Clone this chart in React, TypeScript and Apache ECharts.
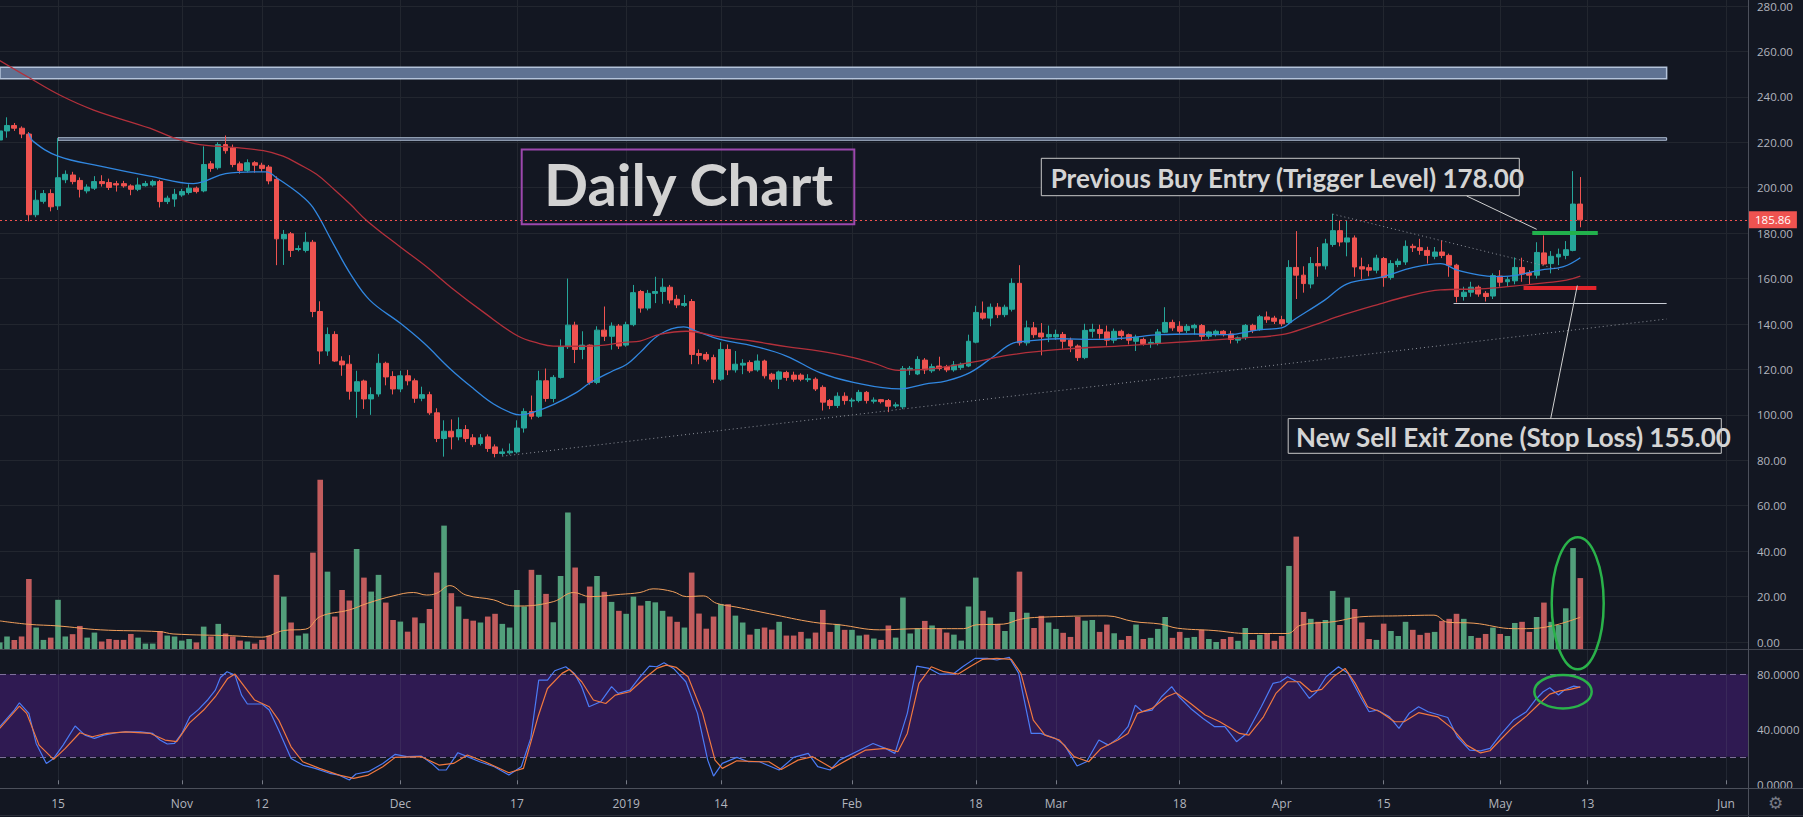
import React, { useEffect, useRef } from "react";
import * as echarts from "echarts";

// Day index: 0 = 15 Oct 2018. First candle = 7 Oct 2018 (day -8), last = 12 May 2019 (day 209)
const FIRST_DAY = -8;

// [open, high, low, close]
const OHLC_OCT = [
  [221, 227, 219, 225], [225, 231, 222, 227.4], [227.4, 228.5, 225, 226.2], [226.2, 227, 221.8, 223.6],
  [223.6, 224.5, 185.2, 188.1], [188.1, 198.9, 187, 194.5], [194, 199, 193, 197.4], [197.4, 199.3, 189.6, 191.6],
  [192, 221.8, 190.2, 204.4], [203.5, 207.6, 202, 205.9], [205.6, 207, 201.5, 202.7], [203.2, 204.5, 195.7, 199.3],
  [198.6, 201.5, 197.5, 200.3], [199.8, 205.1, 199, 202.7], [202.7, 205.5, 200.5, 201.8], [202.3, 204, 199, 200.1],
  [201.8, 203, 198.3, 201.2], [201.8, 203, 200, 200.8], [200.8, 201.5, 196.7, 199.3], [199.3, 204.4, 198.5, 201.2],
  [200.9, 203, 200.5, 201.8], [201.2, 203.5, 200.5, 202.7], [202.7, 203.5, 191.3, 193.9], [193.9, 196.5, 192.8, 195.4],
  [195, 199.5, 191.6, 197.1],
];
const OHLC_NOV = [
  [196.8, 199.5, 196, 198.3], [197.9, 201.5, 197, 199.8], [199.8, 200.5, 197.5, 198.3], [198.6, 218.2, 198, 210.2],
  [210.5, 211.7, 207, 208.5], [208.8, 220, 208, 219], [219, 223, 215, 216.3], [217.5, 219, 209, 210.2],
  [210.5, 211.5, 206.2, 207.6], [207.6, 212.5, 206.8, 211], [211, 211.7, 206.6, 209.9], [209.9, 211, 207, 208.5],
  [209.1, 210, 201.5, 203], [203.7, 205, 165.9, 177.5], [177.5, 181.4, 166, 179.4], [179.7, 180.5, 169.5, 172.4],
  [172.8, 174.6, 172, 173.2], [172.4, 180.4, 171.5, 176], [176, 177, 143, 145.5], [145.5, 150, 122.3, 128.1],
  [128.1, 138.5, 126, 135.4], [135.4, 136.8, 123.3, 123.7], [123.7, 125.8, 117.2, 122], [122.3, 126.3, 106.7, 110.4],
  [110.4, 119.4, 98.7, 114.6], [114.9, 115.5, 102.6, 107], [107, 112.1, 100, 108.9], [109.2, 126.9, 108, 122.7],
  [122.7, 123.4, 113, 116.7], [116.9, 119.2, 109, 111.4],
];
const OHLC_DEC = [
  [111.4, 119.4, 110, 117.2], [117.2, 119.8, 113, 115], [115, 116, 105.3, 107.3], [107.3, 112.4, 106, 108.9],
  [108.9, 110.2, 100, 100.9], [100.9, 102.9, 88, 89.6], [89.6, 97.6, 81.6, 92.8], [92.8, 98, 84.8, 90.3],
  [90.3, 98.9, 88.8, 93.5], [93.5, 95.5, 88, 89.6], [89.9, 91.5, 85.8, 86.9], [87.4, 91.5, 86.5, 89.9],
  [90.3, 91.4, 83.7, 85.2], [85.9, 87, 81.3, 83], [83, 85.2, 82, 83.7], [83.3, 87.4, 82.5, 84],
  [83.7, 97.6, 83, 94.2], [94.2, 102.9, 92.2, 101.5], [101.5, 108.5, 98, 99.4], [99.4, 119.4, 98.7, 115],
  [115, 120.4, 105.8, 107.2], [107.2, 117.5, 105.5, 116.5], [116.5, 133.2, 116, 130], [130, 160, 129, 139.5],
  [139.5, 141, 122.8, 128.8], [128.8, 136.8, 124.5, 130.7], [130.7, 131, 113.3, 114.3], [114.3, 139, 113.5, 137.3],
  [137.3, 147.7, 132.5, 134.6], [134.6, 140.7, 128.7, 139.1], [139.1, 140, 129, 130.3],
];
const OHLC_JAN = [
  [130.7, 141, 130, 139.7], [139.7, 157.2, 139, 153.8], [154.3, 155, 145, 147], [147, 155, 146, 153.5],
  [153.5, 160.8, 149.2, 154.3], [154.3, 160.1, 148.9, 156.2], [156.2, 157.2, 149, 150.6], [150.9, 152.8, 147, 148.4],
  [148.2, 152.8, 147.5, 149], [149.9, 151, 122.3, 126.6], [127, 128.8, 122.3, 126.2], [126.6, 127.7, 123.5, 124.5],
  [125.2, 126.5, 114, 115.7], [115.7, 132, 115, 128.8], [128.8, 131, 117.5, 119.8], [119.8, 128.1, 118.6, 122.3],
  [121.9, 124.5, 117.9, 122.7], [123, 124, 118.5, 119.4], [119.8, 126.6, 119, 123.7], [123.7, 124.3, 116, 117.2],
  [117.9, 118.5, 114.5, 115.7], [115.7, 119.5, 111.4, 118.9], [118.6, 119.4, 115, 116.5], [117.5, 119, 114.6, 115.7],
  [117.5, 118.3, 114.8, 115.7], [115.5, 117.9, 114.5, 115.9], [115.7, 116.5, 110.5, 111.4], [112.1, 113, 101.9, 105.6],
  [106.3, 107, 102.5, 104.1], [104.1, 109.9, 103, 108.2], [108.2, 109.9, 104.5, 106.3],
];
const OHLC_FEB = [
  [106.1, 107.5, 103.4, 106.5], [106.3, 111, 105.5, 109.9], [109.9, 110.5, 105, 106.3], [106, 107.7, 105, 106.5],
  [106.7, 107, 105, 105.8], [106.3, 107, 101.2, 103.8], [103.9, 105.5, 103, 104.4], [103.5, 121.5, 102.5, 120.3],
  [119.9, 121.5, 117.5, 120.5], [118, 125.8, 117.5, 124.4], [124.1, 125, 118, 119.8], [119.4, 122.5, 118.5, 121.2],
  [121.5, 125.6, 119.5, 120.4], [121.2, 122, 118.8, 119.8], [119.8, 123.7, 119, 122], [120.8, 123, 119.8, 122.3],
  [121.5, 135.3, 121, 132.4], [132, 148, 131.5, 145.1], [144.8, 149.9, 141.9, 142.6], [142.6, 149, 139, 147.4],
  [147.4, 149.2, 142.6, 144.1], [144.1, 148.5, 143, 147.4], [146.5, 160.1, 145.5, 157.9], [157.9, 165.9, 130.5, 131.7],
  [131.7, 141.5, 130.5, 138.3], [138.3, 140.9, 133.9, 135.3], [136, 140.4, 126.2, 134.3], [134.3, 139.3, 132, 135.4],
];
const OHLC_MAR = [
  [134.3, 137.5, 133, 135.4], [135.4, 136.5, 129.1, 132.4], [132.9, 134, 127.6, 130.3], [130.3, 131, 123.7, 125.2],
  [125.2, 140.1, 124.5, 137.2], [136.8, 140.1, 134, 137.6], [137.6, 139.7, 133.5, 135.8], [136.5, 139.3, 130.5, 132.9],
  [132.9, 138, 131.5, 136.8], [136.8, 137.5, 133, 134.9], [135.3, 135.8, 131, 132.9], [132.4, 135.3, 128.1, 134.2],
  [133.2, 134, 130.5, 131.4], [131.4, 133.5, 129.5, 131.9], [131.4, 137.8, 130.6, 136.5], [136.4, 147.4, 136, 140.7],
  [140.7, 141.9, 137, 138.3], [139, 141.2, 135.5, 136.8], [137.2, 140, 136, 139], [138.3, 140.1, 135.3, 139.4],
  [139.3, 140, 132.9, 134.6], [134.6, 137, 133.5, 136.5], [135.3, 137.5, 134.5, 136.8], [136.8, 137.3, 134.5, 135.3],
  [135.6, 137, 131.4, 133.2], [132.9, 134.5, 131.5, 133.9], [134, 140, 133, 139.4], [139.4, 140.1, 136, 137.2],
  [137.5, 144, 137, 143.2], [143.1, 145.5, 140.5, 141.9], [142.6, 143.6, 140, 141.2],
];
const OHLC_APR = [
  [141.9, 143.6, 139, 140.1], [140.7, 168.1, 140, 164.9], [164.9, 180.9, 151, 161.5], [161.5, 165.4, 153.8, 157.8],
  [157.6, 169.5, 155.7, 166.6], [166.6, 173.9, 160.8, 165.6], [165.6, 177.5, 164, 175.3], [175, 188.5, 174, 181.1],
  [181.1, 185.5, 174.2, 176.1], [176.1, 185.7, 169.8, 177.9], [177.9, 179, 160.8, 165.1], [165.2, 169.2, 159.7, 164.2],
  [164.8, 166.3, 161, 163.7], [163.7, 170.5, 162.3, 169], [168.8, 169.5, 156.4, 160.5], [160.5, 168.1, 159.5, 166.6],
  [166.2, 168.8, 165, 167.6], [167.3, 176.8, 166, 174.2], [174.2, 175.3, 171.7, 173.6], [173.6, 177.5, 170.5, 172.4],
  [172.4, 174, 166.6, 170.2], [169.8, 173.9, 168.5, 171.7], [171.7, 176.8, 169, 170.2], [170.2, 171, 160.8, 165.9],
  [165.9, 166.5, 149.5, 152.1], [152.1, 156.4, 150.3, 154], [154, 158.6, 152, 156.2], [156.2, 157, 152, 153.2],
  [153.5, 154.5, 149.9, 152.1], [152.3, 162.3, 151, 161.3],
];
const OHLC_MAY = [
  [161.1, 163.7, 156.4, 158.4], [158.6, 160.8, 156.7, 159.5], [159, 169.3, 157.5, 164.9], [164.9, 169.2, 158.6, 162],
  [162.5, 163.7, 157.2, 161.5], [161.5, 176, 160, 171.5], [171.3, 179, 165.9, 166.4], [166.6, 172.1, 162.3, 169.8],
  [169.5, 173.2, 165.9, 170.7], [170.2, 176.5, 168.5, 172.7], [172.4, 207.3, 172, 192.8], [192.8, 204.7, 182.6, 185.86],
];

const VOL_OCT = [3, 5.6, 4.1, 5.6, 30.7, 9.5, 4.1, 5.1, 21.6, 5.6, 6.6, 10.2, 5.1, 7.3, 3.4, 4.5, 4.1, 4.1, 6.7, 5.1, 2.5, 2.5, 8, 6, 5.6];
const VOL_NOV = [3.8, 4.5, 3, 9.9, 5.6, 11.1, 6.9, 5.6, 3.8, 3.4, 2.5, 4.1, 6, 32.5, 23, 11.7, 6, 6.9, 42.2, 74, 33.9, 14.3, 25.9, 21.3, 43.8, 31.3, 25.2, 32.5, 20.4, 12.8];
const VOL_DEC = [12.1, 7.7, 13.9, 11.4, 17.6, 33.5, 54, 24.5, 18.7, 13.3, 12.5, 11.7, 14.3, 15.5, 11.1, 9.5, 25.9, 18.7, 34.7, 32.5, 24.2, 11.8, 32, 59.7, 35.7, 20.1, 27.4, 32, 25.1, 20.7, 16.8];
const VOL_JAN = [15.5, 23, 19.1, 21.1, 20.5, 16.8, 14.3, 12, 9.5, 33.5, 15.6, 9, 14.3, 19.8, 19.7, 14.7, 11.7, 6.4, 8.9, 9.5, 8.6, 12, 6, 6, 7.6, 4.7, 7.3, 17.2, 7.6, 11.1, 8.5];
const VOL_FEB = [8.5, 6, 6.4, 4.7, 4.1, 10.4, 5.1, 22.6, 6.9, 9.2, 12.4, 10.4, 9.2, 7.3, 6.4, 3.8, 18.7, 31.3, 16.8, 13.9, 11.1, 8, 16.3, 33.9, 16, 9.3, 14.6, 11.7];
const VOL_MAR = [8.9, 7.2, 5.4, 14.1, 12.5, 12.8, 7.6, 10.8, 7, 4.1, 5.8, 10.8, 4.5, 5, 8.9, 14.1, 5, 7.6, 5, 5.4, 8.5, 4.5, 3.2, 4.5, 5.4, 3.7, 9.3, 4.1, 6.3, 6.9, 3.7];
const VOL_APR = [5.8, 36.4, 49.2, 16.3, 13.3, 12, 12.8, 25.5, 10.6, 22.6, 17.6, 11.7, 4.5, 4.1, 11.2, 8, 5.8, 12, 8.5, 6.3, 7.2, 7.6, 12.4, 13.3, 15.5, 13.3, 5.8, 5, 6.7, 9.5];
const VOL_MAY = [6.7, 5.8, 11.5, 12, 7.6, 14.1, 20.4, 12, 10.6, 17.9, 44.2, 31.1];

// indicator readings: [day, value]
const EMA_FAST = [
  [-4, 224], [-3.4, 220.4], [0, 213.9], [5.8, 209.5], [12.6, 205.1], [18.6, 201.8], [20, 202.7], [23, 206.2],
  [26.8, 207], [28.6, 207], [30, 204.4], [33.2, 197.1], [35, 191.3], [37.8, 175.3], [40.1, 162.3], [42.8, 150.5],
  [46.96, 140.4], [50.2, 131.7], [53.9, 120.1], [57.1, 111.4], [59.8, 104.8], [62.5, 100.5], [63.4, 100],
  [65.3, 101.2], [68, 104.5], [71.2, 109.9], [73, 114], [76.2, 119.4], [78.1, 122.3], [79.9, 127.4], [82.6, 135.4],
  [85.9, 138.7], [87.7, 136.8], [90.9, 133.2], [95.5, 130.3], [100, 125.9], [104.6, 118.6], [109.2, 114.3],
  [115.6, 111.4], [119, 113.5], [122, 115], [125.2, 118.6], [128.4, 125.6], [131.2, 131.7], [133, 132.4],
  [137.6, 133.5], [142.2, 133.2], [146.7, 133.9], [151.3, 135.3], [155.9, 135.6], [160.5, 135.3], [165, 137.5],
  [168, 138.3], [169.7, 141.9], [173.9, 150.5], [177, 157.7], [181.5, 160.5], [186.1, 164.9], [189.8, 166.6],
  [192.1, 163.7], [195.2, 161.5], [197.1, 160.9], [199.8, 161.3], [203.5, 163.7], [206.7, 165.3], [209, 169.2],
];
const EMA_SLOW = [
  [-8, 256], [-4, 248.5], [0.3, 240.7], [4.9, 234.2], [12.6, 226.2], [15.8, 222.1], [19.5, 219], [24, 217.8],
  [28.2, 216.3], [30.9, 213.9], [33, 210.5], [35.5, 205.9], [38, 199], [40.1, 192.8], [42.4, 185.5], [47, 173.9],
  [50.6, 165.2], [54, 156], [58.5, 145], [63.2, 134.6], [66, 131.5], [68, 130.3], [72.6, 130.2], [78.1, 132],
  [79.9, 132.5], [82.6, 135.4], [86.3, 136.8], [90.9, 134.3], [95.5, 132.4], [100, 130], [104.6, 128.1],
  [109.2, 125.2], [112, 122.8], [115.4, 119.6], [119.3, 120.1], [125.2, 123], [131.2, 126.6], [137.6, 128.8],
  [146.7, 130.5], [155.9, 132.4], [162.8, 133.9], [168, 135.3], [171.9, 139], [176.5, 144.1], [181.5, 148.9],
  [185, 152], [189.8, 155], [195.2, 155.5], [199.8, 156.7], [204.4, 158.2], [207.1, 159.3], [209, 161.1],
];
const VOL_AVG = [
  [-8, 12.4], [-4, 10.9], [0, 10.2], [5.8, 8.5], [14, 7.7], [15.8, 6.7], [24, 5.9], [28, 5.3], [31, 8.2], [34, 8.8],
  [36, 14.3], [40, 17.2], [42.5, 20.1], [46, 23.3], [48.8, 24.8], [50.6, 23.7], [52, 24.5], [53.8, 27.8], [56, 23.7],
  [59.8, 21.6], [62, 19.1], [63.4, 18.9], [68, 20.8], [70.8, 24.8], [73, 23], [77.2, 24], [79.9, 24.8], [81.7, 26.4],
  [84.4, 25.2], [86.3, 23], [88.6, 23.3], [90.4, 20.1], [93.2, 18.4], [97.7, 15.5], [103.7, 11.8], [107.3, 10.7],
  [112.8, 8.5], [118.3, 9], [124.3, 9], [126.1, 10.7], [129.8, 11], [132.1, 13.1], [134.8, 14], [144, 14.6],
  [147.7, 12.1], [151.4, 11], [153.7, 9.2], [158.7, 8.2], [163.3, 6.9], [168.8, 6.9], [170.6, 10.5], [175.2, 12.1],
  [179.3, 14.3], [183.9, 14.6], [188.9, 14.9], [190.8, 11.8], [194.4, 11.4], [199.9, 9], [201.6, 9], [205.2, 10.3],
  [209, 14],
];
const STOCH_K = [
  [-8, 41.9], [-6, 54], [-5.3, 59.3], [-4, 51.6], [-3, 29.7], [-1.6, 15.2], [-0.6, 18.8], [0.7, 28.5], [2.35, 42.4],
  [3.7, 35.8], [5, 33.4], [6.3, 35.8], [8, 37.5], [9.3, 38.2], [11.3, 38.2], [13, 37], [14, 32.2], [15, 29.3],
  [16, 29.7], [17, 37], [18.1, 49.1], [19.3, 54.5], [20.6, 61.7], [21.6, 68.5], [22.3, 77.7], [23.2, 81.9],
  [24.3, 79.4], [25.2, 64.9], [26, 58.4], [28, 58.4], [29, 54], [30.3, 39.4], [32, 18.8], [33.6, 14], [35.3, 11.6],
  [37.3, 8], [38.6, 6.7], [40, 3.1], [40.9, 7.5], [42.6, 9.2], [44.6, 15.2], [46.3, 21.8], [47.9, 20.1], [49.9, 20.5],
  [51.3, 15.2], [52.3, 10.4], [53.3, 10.4], [54.9, 23], [56.2, 20.1], [57.9, 16.4], [59.9, 12.8], [61.9, 6.7],
  [63.6, 12.8], [64.9, 33.4], [66, 75.8], [67.2, 75.8], [68.2, 82.6], [69.7, 85.5], [70.9, 80.7], [71.9, 71],
  [72.9, 56.4], [74.5, 60], [76, 71], [76.9, 66.1], [78.5, 68.5], [79.9, 78.2], [81.2, 86], [82.2, 85.5], [83.2, 88.4],
  [84.5, 84.3], [86.2, 74.6], [87.8, 51.6], [89.2, 17.6], [90, 6], [91.2, 15.2], [93.2, 19.6], [94.8, 16.4],
  [96.3, 16.4], [99, 10.4], [101, 19.6], [103, 22.5], [104.3, 12.8], [106, 10.4], [107.3, 17.6], [109.6, 23.7],
  [111.9, 29.7], [113.6, 26.1], [114.9, 22.5], [116.6, 51.6], [117.9, 86], [119.6, 84.3], [121, 80.2], [122.9, 80.2],
  [124.2, 85.5], [125.9, 91.6], [127.6, 91.6], [128.9, 90.4], [130.6, 92.3], [131.9, 80.7], [133.6, 37], [134.9, 37],
  [136.9, 33.4], [138.2, 28.5], [139.9, 13.3], [141.2, 16.4], [142.9, 32.2], [144.2, 28.5], [145.5, 33.4],
  [146.9, 41.9], [147.9, 57.6], [148.9, 52.8], [150.2, 54], [151.5, 63.7], [152.9, 71], [153.9, 63.7], [155.5, 55.2],
  [157.2, 47.9], [158.8, 41.9], [160.2, 41.9], [161.8, 31], [163.2, 37], [165.2, 56.4], [166.8, 73.4], [167.8, 74.6],
  [168.8, 78.2], [170.1, 74.6], [171.8, 62.5], [172.8, 67.3], [174.1, 78.2], [175.8, 85.5], [177.1, 80.7],
  [178.8, 63.7], [180, 52.8], [181.1, 54], [182.8, 49.1], [184.1, 40.7], [185.5, 51.6], [186.8, 56.4], [188.1, 52.8],
  [190.8, 48.6], [192.1, 34.6], [193.8, 24.9], [195.3, 24.3], [196.6, 26.1], [198, 35.8], [199.8, 46.7],
  [201.6, 52.8], [202.8, 61.3], [203.9, 67.3], [204.8, 70.2], [206, 64.9], [206.9, 69], [208.1, 71.4], [209, 70.5],
];
const STOCH_D = [
  [-8, 40.7], [-5.3, 56.9], [-4.3, 51.6], [-2.6, 28.5], [-0.6, 18.1], [1, 26.1], [3, 37.5], [4.7, 34.6], [6.7, 37],
  [9.3, 38.2], [12.7, 37], [14.7, 32.2], [16.3, 31], [18, 44.3], [20, 54], [21.6, 63.7], [23.3, 77], [24.3, 80.2],
  [25.6, 71], [27, 61.3], [29, 56.4], [30.3, 46.7], [32, 27.3], [33.6, 16.4], [35.9, 11.6], [38.6, 6.7], [40.6, 4.3],
  [42.6, 6.7], [44.6, 12.8], [46.3, 19.6], [49.9, 20.1], [52.3, 14], [54.3, 15.2], [56.2, 21.3], [58.6, 16.4],
  [61.9, 8.4], [63.9, 11.6], [65.9, 49.1], [67.2, 69.7], [69.2, 80.7], [70.2, 83.6], [71.9, 74.6], [73.5, 61.3],
  [75.2, 58.8], [76.5, 64.9], [78.5, 67.3], [80.5, 77], [82.2, 84.3], [83.5, 86.7], [84.9, 85], [86.5, 78.2],
  [88.5, 51.6], [90.2, 17.6], [91.2, 11.6], [93.2, 17.1], [96.4, 16.4], [97.6, 16.4], [99.3, 10.8], [101.6, 17.6],
  [103.6, 20.1], [106.3, 11.6], [108.3, 17.6], [110.9, 24.9], [113.6, 26.1], [115.3, 23.7], [116.6, 37],
  [118.2, 73.4], [119.9, 85.5], [121.6, 81.9], [123.6, 80.2], [125.2, 85.5], [126.9, 90.8], [128.9, 91.6],
  [130.9, 90.8], [132.2, 80.7], [133.9, 46.7], [135.5, 35.8], [137.5, 32.2], [139.5, 20.1], [141.5, 16.4],
  [143.2, 26.1], [145.5, 32.2], [146.9, 37], [148.2, 51.6], [150.2, 55.2], [152.2, 63.7], [153.5, 66.6],
  [155.5, 58.8], [157.5, 50.4], [159.5, 45.5], [162.2, 37], [163.5, 35.8], [165.5, 49.1], [167.2, 66.1],
  [168.8, 74.6], [170.5, 74.6], [172.1, 67.3], [173.5, 69], [175.1, 78.2], [176.7, 84.3], [178.1, 73.4],
  [179.8, 56.4], [181.5, 52.8], [183.5, 45.5], [184.8, 45.5], [186.8, 52.1], [189.4, 49.1], [191.4, 40.7],
  [193.4, 28.5], [195.3, 22.8], [196.6, 24.4], [198, 32.2], [199.8, 41.9], [201.6, 49.6], [203.4, 58.8],
  [204.8, 65.6], [206.2, 68], [207.6, 69], [209, 70.9],
];

const TICK_DAYS = [0, 17, 28, 47, 63, 78, 91, 109, 126, 137, 154, 168, 182, 198, 210, 229];
const TICK_LABELS = ["15", "Nov", "12", "Dec", "17", "2019", "14", "Feb", "18", "Mar", "18", "Apr", "15", "May", "13", "Jun"];

const LAST_PRICE = 185.86;
// drawings (day, price)
const ZONE_TOP = { from: -7.963, to: 220.85, low: 248, high: 253 };
const ZONE_221 = { from: 0, to: 220.85, low: 220.9, high: 222 };
const TREND_LOW = [[61, 81.8], [220.85, 142.2]];
const TREND_HIGH = [[175, 188.4], [206.5, 163.7]];
const SUPPORT_LINE = [[191.6, 149], [220.85, 149]];
const TRIGGER_LINE = [[202.4, 180], [211.4, 180]];
const STOP_LINE = [[201.2, 155.8], [211.2, 155.8]];

const CANDLES = [...OHLC_OCT, ...OHLC_NOV, ...OHLC_DEC, ...OHLC_JAN, ...OHLC_FEB, ...OHLC_MAR, ...OHLC_APR, ...OHLC_MAY];
const VOLUMES = [...VOL_OCT, ...VOL_NOV, ...VOL_DEC, ...VOL_JAN, ...VOL_FEB, ...VOL_MAR, ...VOL_APR, ...VOL_MAY];

const BG = "#131722";
const GRID_C = "#22262f";
const AXIS_TXT = "#b2b5be";
const UP = "#26a69a";
const DOWN = "#ef5350";
const VOL_UP = "#529f7b";
const VOL_DOWN = "#c25c5d";
const FONT = "'Open Sans', 'Noto Sans', sans-serif";
const NOTE_FONT = "Lato, 'Open Sans', sans-serif";

const X_MIN = -7.963;
const X_MAX = 232.02;

function buildOption() {
  const candleData = CANDLES.map((c, i) => [FIRST_DAY + i, c[0], c[3], c[2], c[1]]);
  const volData = VOLUMES.map((v, i) => ({
    value: [FIRST_DAY + i, v],
    itemStyle: { color: CANDLES[i][3] >= CANDLES[i][0] ? VOL_UP : VOL_DOWN },
  }));
  const vGrid = TICK_DAYS.map((d) => ({ xAxis: d }));
  const dotted = { color: "#8f939c", type: [1, 3], width: 1 };

  return {
    animation: false,
    backgroundColor: BG,
    textStyle: { fontFamily: FONT },
    grid: [
      { left: 0, right: 55, top: 0, height: 642 },
      { left: 0, right: 55, top: 0, height: 649.3 },
      { left: 0, right: 55, top: 649.3, height: 135 },
    ],
    xAxis: [
      { type: "value", gridIndex: 0, min: X_MIN, max: X_MAX, show: false },
      { type: "value", gridIndex: 1, min: X_MIN, max: X_MAX, show: false },
      {
        type: "value", gridIndex: 2, min: X_MIN, max: X_MAX, offset: 4,
        axisLine: { show: false },
        axisTick: { show: true, inside: true, length: 4, customValues: TICK_DAYS, lineStyle: { color: "#787b86" } },
        axisLabel: {
          customValues: TICK_DAYS, color: AXIS_TXT, fontSize: 12, margin: 9,
          formatter: (v: number) => { const i = TICK_DAYS.indexOf(Math.round(v)); return i >= 0 ? TICK_LABELS[i] : ""; },
        },
        splitLine: { show: false },
      },
    ],
    yAxis: [
      {
        type: "value", gridIndex: 0, position: "right", min: 0, max: 280, interval: 20,
        axisLine: { show: false }, axisTick: { show: false },
        axisLabel: { color: AXIS_TXT, fontSize: 11.5, margin: 9, formatter: (v: number) => v.toFixed(2) },
        splitLine: { lineStyle: { color: GRID_C, width: 1 } },
      },
      { type: "value", gridIndex: 1, min: 0, max: 283.5, show: false },
      {
        type: "value", gridIndex: 2, position: "right", min: 0, max: 98.2, interval: 40,
        axisLine: { show: false }, axisTick: { show: false },
        axisLabel: {
          color: AXIS_TXT, fontSize: 11.5, margin: 9, showMaxLabel: false,
          formatter: (v: number) => (Math.abs(v % 40) < 1e-6 ? v.toFixed(4) : ""),
        },
        splitLine: { show: false },
      },
    ],
    series: [
      {
        type: "bar", name: "Volume", xAxisIndex: 1, yAxisIndex: 1, data: volData, barWidth: 5.6, z: 2, silent: true,
        markLine: {
          silent: true, symbol: ["none", "none"], z: 1, label: { show: false },
          lineStyle: { color: GRID_C, type: "solid", width: 1 }, data: vGrid,
        },
      },
      {
        type: "line", name: "Vol MA", xAxisIndex: 1, yAxisIndex: 1, data: VOL_AVG, smooth: 0.4, showSymbol: false,
        lineStyle: { color: "#f3a05c", width: 1 }, z: 3, silent: true,
      },
      {
        type: "candlestick", name: "Price", xAxisIndex: 0, yAxisIndex: 0, data: candleData, barWidth: 5.4, z: 4,
        silent: true,
        itemStyle: { color: UP, color0: DOWN, borderColor: UP, borderColor0: DOWN, borderWidth: 1 },
        markArea: {
          silent: true, z: 1.2, label: { show: false },
          data: [
            [
              { coord: [ZONE_TOP.from, ZONE_TOP.high], itemStyle: { color: "#5f7292", borderColor: "#b4c3da", borderWidth: 1.5 } },
              { coord: [ZONE_TOP.to, ZONE_TOP.low] },
            ],
            [
              { coord: [ZONE_221.from, ZONE_221.high], itemStyle: { color: "#3b4660", borderColor: "#b4c3da", borderWidth: 1 } },
              { coord: [ZONE_221.to, ZONE_221.low] },
            ],
          ],
        },
        markLine: {
          silent: true, symbol: ["none", "none"], z: 6, label: { show: false },
          data: [
            {
              yAxis: LAST_PRICE,
              lineStyle: { color: DOWN, type: [2, 3], width: 1 },
              label: {
                show: true, position: "end", distance: 0, formatter: LAST_PRICE.toFixed(2),
                backgroundColor: DOWN, color: "#ffffff", fontSize: 11.5, fontFamily: FONT, padding: [3, 6, 2, 7],
              },
            },
            [{ coord: TREND_LOW[0], lineStyle: dotted }, { coord: TREND_LOW[1] }],
            [{ coord: TREND_HIGH[0], lineStyle: dotted }, { coord: TREND_HIGH[1] }],
            [{ coord: SUPPORT_LINE[0], lineStyle: { color: "#c9cdd6", type: "solid", width: 1 } }, { coord: SUPPORT_LINE[1] }],
            [{ coord: TRIGGER_LINE[0], lineStyle: { color: "#22b14c", type: "solid", width: 4 } }, { coord: TRIGGER_LINE[1] }],
            [{ coord: STOP_LINE[0], lineStyle: { color: "#e3242b", type: "solid", width: 4 } }, { coord: STOP_LINE[1] }],
          ],
        },
      },
      {
        type: "line", name: "EMA fast", xAxisIndex: 0, yAxisIndex: 0, data: EMA_FAST, smooth: 0.4, showSymbol: false,
        lineStyle: { color: "#3187e0", width: 1.3 }, z: 5, silent: true,
      },
      {
        type: "line", name: "EMA slow", xAxisIndex: 0, yAxisIndex: 0, data: EMA_SLOW, smooth: 0.4, showSymbol: false,
        lineStyle: { color: "#b3303b", width: 1.3 }, z: 5, silent: true,
      },
      {
        type: "line", name: "%K", xAxisIndex: 2, yAxisIndex: 2, data: STOCH_K, showSymbol: false,
        lineStyle: { color: "#4b7bf5", width: 1.2 }, z: 3, silent: true,
        markArea: {
          silent: true, z: 1, data: [[{ yAxis: 20, itemStyle: { color: "#2f1a52" } }, { yAxis: 80 }]],
        },
        markLine: {
          silent: true, symbol: ["none", "none"], z: 1.6, label: { show: false },
          lineStyle: { color: "#7e6f9a", type: [6, 4], width: 1 },
          data: [{ yAxis: 80 }, { yAxis: 20 }],
        },
      },
      {
        type: "line", name: "%D", xAxisIndex: 2, yAxisIndex: 2, data: STOCH_D, showSymbol: false,
        lineStyle: { color: "#f0783f", width: 1.2 }, z: 3, silent: true,
        markLine: {
          silent: true, symbol: ["none", "none"], z: 1.5, label: { show: false },
          lineStyle: { color: "rgba(120,123,134,0.16)", type: "solid", width: 1 }, data: vGrid,
        },
      },
    ],
    graphic: {
      elements: [
        { type: "line", z: 50, shape: { x1: 0, y1: 649.5, x2: 1803, y2: 649.5 }, style: { stroke: "#434651", lineWidth: 1 } },
        { type: "line", z: 50, shape: { x1: 1748.5, y1: 0, x2: 1748.5, y2: 817 }, style: { stroke: "#4c505b", lineWidth: 1 } },
        { type: "line", z: 50, shape: { x1: 0, y1: 788.5, x2: 1803, y2: 788.5 }, style: { stroke: "#4c505b", lineWidth: 1 } },
        { type: "line", z: 50, shape: { x1: 0, y1: 815.5, x2: 1803, y2: 815.5 }, style: { stroke: "#2a2e39", lineWidth: 1 } },
        {
          type: "text", z: 50, x: 1775.7, y: 802.5,
          style: { text: "\u2699", fill: "#787b86", fontSize: 17, fontFamily: "'DejaVu Sans', sans-serif", align: "center", verticalAlign: "middle" },
        },
        // Daily Chart title box
        { type: "rect", z: 100, shape: { x: 521.7, y: 149.5, width: 332.6, height: 74.8 }, style: { fill: "none", stroke: "#9c48ad", lineWidth: 2 } },
        {
          type: "text", z: 101, x: 688.5, y: 183,
          style: { text: "Daily Chart", fill: "#d2d2d2", fontSize: 58, fontWeight: "bold", fontFamily: NOTE_FONT, align: "center", verticalAlign: "middle" },
        },
        // Buy entry note
        { type: "rect", z: 100, shape: { x: 1041.3, y: 158.3, width: 478, height: 37.4 }, style: { fill: BG, stroke: "#c9c9c9", lineWidth: 1 } },
        {
          type: "text", z: 101, x: 1050.7, y: 177.5,
          style: { text: "Previous Buy Entry (Trigger Level) 178.00", fill: "#d4d4d4", fontSize: 26, fontWeight: "bold", fontFamily: NOTE_FONT, align: "left", verticalAlign: "middle" },
        },
        { type: "line", z: 100, shape: { x1: 1466.7, y1: 196, x2: 1536.7, y2: 229.3 }, style: { stroke: "#d0d0d0", lineWidth: 1 } },
        // Sell exit note
        { type: "rect", z: 100, shape: { x: 1288.2, y: 418.6, width: 433.1, height: 34.7 }, style: { fill: BG, stroke: "#c9c9c9", lineWidth: 1 } },
        {
          type: "text", z: 101, x: 1296, y: 436.5,
          style: { text: "New Sell Exit Zone (Stop Loss) 155.00", fill: "#d4d4d4", fontSize: 26, fontWeight: "bold", fontFamily: NOTE_FONT, align: "left", verticalAlign: "middle" },
        },
        { type: "line", z: 100, shape: { x1: 1550.7, y1: 418.6, x2: 1577.3, y2: 285.5 }, style: { stroke: "#d0d0d0", lineWidth: 1 } },
        // highlight ellipses
        { type: "ellipse", z: 100, shape: { cx: 1577.7, cy: 603.3, rx: 26, ry: 66 }, style: { fill: "none", stroke: "#2ab24a", lineWidth: 2.5 } },
        { type: "ellipse", z: 100, shape: { cx: 1563, cy: 691.7, rx: 28.7, ry: 16.7 }, style: { fill: "none", stroke: "#2ab24a", lineWidth: 2.5 } },
      ],
    },
  };
}

export default function App() {
  const ref = useRef<HTMLDivElement>(null);
  useEffect(() => {
    if (!ref.current) return;
    const chart = echarts.init(ref.current, null, { renderer: "svg" });
    chart.setOption(buildOption() as any);
    return () => chart.dispose();
  }, []);
  return (
    <div
      ref={ref}
      style={{ position: "fixed", left: 0, top: 0, width: 1803, height: 817, background: BG }}
    />
  );
}
